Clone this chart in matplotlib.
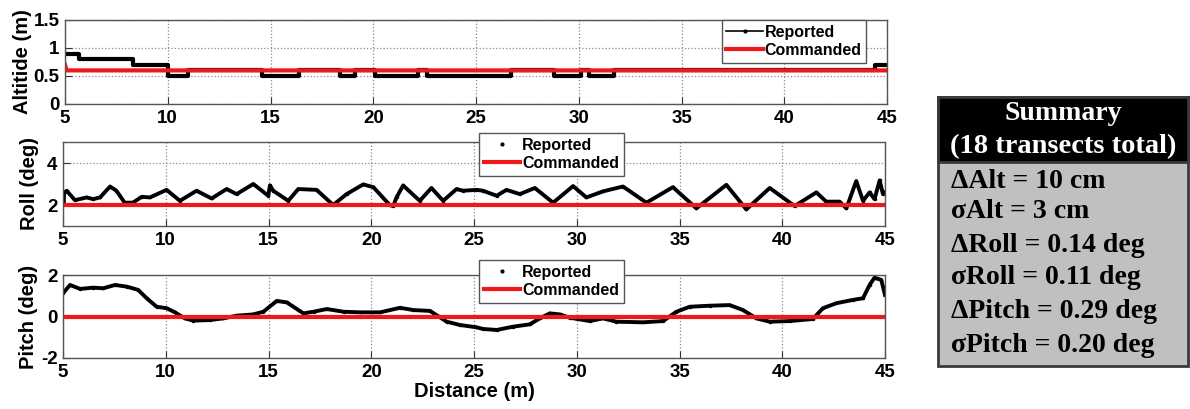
import matplotlib
matplotlib.use("Agg")
import matplotlib.pyplot as plt
from matplotlib.patches import Rectangle
from matplotlib.lines import Line2D

# ---------------- data ----------------
alt_x = [5, 5.7, 8.3, 10.0, 11.0, 14.6, 16.4, 18.4, 19.1, 20.1, 22.2, 22.6, 26.7,
         28.8, 30.1, 30.5, 31.7, 44.4, 45]
alt_y = [0.9, 0.8, 0.7, 0.5, 0.6, 0.5, 0.6, 0.5, 0.6, 0.5, 0.6, 0.5, 0.6,
         0.5, 0.6, 0.5, 0.6, 0.7, 0.7]
alt_cmd_x = [5, 5.08, 45]
alt_cmd_y = [0.7, 0.6, 0.6]

roll_x = [5.0, 5.02, 5.05, 5.18, 5.58, 6.15, 6.47, 6.8, 7.29, 7.6, 8.0, 8.4, 8.83,
          9.23, 10.04, 10.69, 11.5, 12.23, 12.96, 13.45, 14.26, 14.99, 15.07,
          15.23, 15.96, 16.45, 17.34, 18.15, 18.8, 19.61, 20.1, 20.9, 21.07,
          21.23, 21.55, 22.36, 22.93, 23.5, 24.15, 24.47, 25.12, 25.44, 26.1,
          26.58, 27.23, 27.96, 28.85, 29.82, 30.47, 31.28, 32.25, 33.39, 34.68,
          35.82, 37.28, 38.25, 39.39, 40.6, 41.66, 42.14, 42.79, 43.12, 43.6,
          43.93, 44.25, 44.49, 44.74, 44.9, 45.0]
roll_y = [2.6, 2.0, 2.55, 2.68, 2.23, 2.36, 2.28, 2.36, 2.88, 2.68, 2.11, 2.11, 2.39,
          2.36, 2.72, 2.2, 2.68, 2.31, 2.76, 2.52, 3.0, 2.44, 2.93,
          2.68, 2.2, 2.76, 2.72, 2.0, 2.52, 2.98, 2.85, 2.0, 1.95,
          2.36, 2.93, 2.2, 2.81, 2.2, 2.76, 2.68, 2.72, 2.68, 2.44,
          2.72, 2.52, 2.81, 2.11, 2.9, 2.36, 2.65, 2.88, 2.11, 2.85,
          1.84, 2.96, 1.79, 2.81, 1.95, 2.6, 2.16, 2.16, 1.84, 3.14,
          2.2, 2.6, 2.28, 3.17, 2.52, 2.6]
roll_cmd_x = [5, 45]
roll_cmd_y = [2.0, 2.0]

pitch_x = [5.0, 5.34, 5.83, 6.47, 6.96, 7.53, 8.1, 8.66, 9.07, 9.56, 10.04, 10.45,
           10.93, 11.34, 12.15, 12.8, 13.45, 14.26, 14.75, 15.4, 15.89, 16.7,
           17.19, 17.84, 18.65, 19.46, 20.43, 21.4, 22.05, 22.86, 23.67, 24.32,
           25.12, 25.44, 26.1, 26.9, 27.71, 28.2, 28.69, 29.18, 29.66, 30.64,
           31.28, 31.93, 33.22, 34.2, 34.85, 35.5, 36.47, 37.44, 38.09, 38.74,
           39.39, 40.36, 41.49, 41.98, 42.63, 43.44, 43.93, 44.25, 44.49, 44.82,
           45.0]
pitch_y = [1.12, 1.52, 1.33, 1.39, 1.36, 1.52, 1.44, 1.28, 0.88, 0.47, 0.4, 0.2,
           -0.09, -0.2, -0.17, -0.09, 0.04, 0.1, 0.23, 0.75, 0.68, 0.15,
           0.23, 0.36, 0.23, 0.2, 0.2, 0.42, 0.31, 0.27, -0.25, -0.41,
           -0.52, -0.6, -0.65, -0.49, -0.38, -0.09, 0.15, 0.1, -0.06, -0.22,
           -0.09, -0.25, -0.28, -0.22, 0.23, 0.47, 0.52, 0.55, 0.31, -0.09,
           -0.25, -0.22, -0.12, 0.4, 0.64, 0.8, 0.88, 1.52, 1.87, 1.76,
           1.04]
pitch_cmd_x = [5, 45]
pitch_cmd_y = [0.0, 0.0]

x_ticks = [5, 10, 15, 20, 25, 30, 35, 40, 45]
alt_ticks = [0, 0.5, 1, 1.5]
alt_ticklabels = ["0", "0.5", "1", "1.5"]
roll_ticks = [2, 4]
pitch_ticks = [-2, 0, 2]

summary_title = ["Summary", "(18 transects total)"]
summary_lines = ["\u0394Alt = 10 cm", "\u03c3Alt = 3 cm", "\u0394Roll = 0.14 deg",
                 "\u03c3Roll = 0.11 deg", "\u0394Pitch = 0.29 deg", "\u03c3Pitch = 0.20 deg"]

# ---------------- figure ----------------
plt.rcParams['font.family'] = ['Liberation Sans', 'DejaVu Sans']
plt.rcParams['font.weight'] = 'bold'
plt.rcParams['axes.unicode_minus'] = False

W, H = 1190, 409
fig = plt.figure(figsize=(W / 100, H / 100), dpi=100)
fig.patch.set_facecolor('white')

def px_axes(left, top, right, bottom):
    return fig.add_axes([left / W, 1 - bottom / H, (right - left) / W, (bottom - top) / H])

ax1 = px_axes(65, 20, 887, 104)
ax2 = px_axes(63, 142, 885, 226)
ax3 = px_axes(63, 275, 885, 358)

RED = '#f01818'
spine_col = '#555555'
for ax in (ax1, ax2, ax3):
    ax.set_xlim(5, 45)
    ax.set_xticks(x_ticks)
    ax.grid(True, linestyle=':', color='#8a8a8a', linewidth=0.9)
    ax.tick_params(direction='in', labelsize=13.5, length=5, color='#333333')
    ax.tick_params(axis='x', pad=4)
    ax.tick_params(axis='y', pad=4)
    for s in ax.spines.values():
        s.set_color(spine_col)
        s.set_linewidth(1.0)

# Altitude
ax1.plot(alt_x, alt_y, color='black', linewidth=3.0, drawstyle='steps-post')
ax1.plot(alt_cmd_x, alt_cmd_y, color=RED, linewidth=3.0)
ax1.set_ylim(0, 1.5)
ax1.set_yticks(alt_ticks)
ax1.set_yticklabels(alt_ticklabels)
ax1.set_ylabel("Altitide (m)", fontsize=14.5, fontweight='bold', labelpad=1)
h1 = [Line2D([], [], color='black', linewidth=1.2, marker='.', markersize=4),
      Line2D([], [], color=RED, linewidth=3.0)]
leg_kw = dict(borderaxespad=0, prop={'weight': 'bold', 'size': 11.5}, fancybox=False,
              edgecolor='#555555', framealpha=1, handlelength=2.3, handletextpad=0.1,
              borderpad=0.3, labelspacing=0.2)
ax1.legend(h1, ["Reported", "Commanded"], loc='upper right', bbox_to_anchor=(0.975, 1.0),
           **leg_kw)

# Roll
ax2.plot(roll_x, roll_y, color='black', linewidth=2.8, marker='.', markersize=3)
ax2.plot(roll_cmd_x, roll_cmd_y, color=RED, linewidth=3.0)
ax2.set_ylim(1, 5)
ax2.set_yticks(roll_ticks)
ax2.set_ylabel("Roll (deg)", fontsize=14.5, fontweight='bold', labelpad=6)

h2 = [Line2D([], [], color='black', linestyle='none', marker='.', markersize=4),
      Line2D([], [], color=RED, linewidth=3.0)]
ax2.legend(h2, ["Reported", "Commanded"], loc='upper left', bbox_to_anchor=(0.506, 1.107),
           **leg_kw)

# Pitch
ax3.plot(pitch_x, pitch_y, color='black', linewidth=2.8, marker='.', markersize=3)
ax3.plot(pitch_cmd_x, pitch_cmd_y, color=RED, linewidth=3.0)
ax3.set_ylim(-2, 2)
ax3.set_yticks(pitch_ticks)
ax3.set_ylabel("Pitch (deg)", fontsize=14.5, fontweight='bold', labelpad=2)
ax3.set_xlabel("Distance (m)", fontsize=14.5, fontweight='bold', labelpad=1)
ax3.legend(h2, ["Reported", "Commanded"], loc='upper left', bbox_to_anchor=(0.506, 1.18),
           **leg_kw)

for ax in (ax1, ax2, ax3):
    for lab in ax.get_xticklabels() + ax.get_yticklabels():
        lab.set_fontweight('bold')

# ---------------- summary box ----------------
bx0, bx1, by0, by1, hy = 938, 1188, 97, 366, 162
fig.patches.append(Rectangle((bx0 / W, 1 - by1 / H), (bx1 - bx0) / W, (by1 - by0) / H,
                             transform=fig.transFigure, facecolor='#c0c0c0',
                             edgecolor='#3a3a3a', linewidth=2, zorder=1))
fig.patches.append(Rectangle((bx0 / W, 1 - hy / H), (bx1 - bx0) / W, (hy - by0) / H,
                             transform=fig.transFigure, facecolor='black',
                             edgecolor='#3a3a3a', linewidth=2, zorder=2))
serif = ['Liberation Serif', 'DejaVu Serif']
cx = (bx0 + bx1) / 2 / W
fig.text(cx, 1 - 113 / H, summary_title[0], ha='center', va='center', color='white',
         fontsize=20, fontweight='bold', family=serif, zorder=3)
fig.text(cx, 1 - 147 / H, summary_title[1], ha='center', va='center', color='white',
         fontsize=20.5, fontweight='bold', family=serif, zorder=3)
line_y = [181, 212, 245, 278, 312, 346]
for yy, s in zip(line_y, summary_lines):
    fig.text(951 / W, 1 - yy / H, s, ha='left', va='center', color='black',
             fontsize=20, fontweight='bold', family=serif, zorder=3)

fig.savefig("out.png", dpi=100, facecolor='white')
